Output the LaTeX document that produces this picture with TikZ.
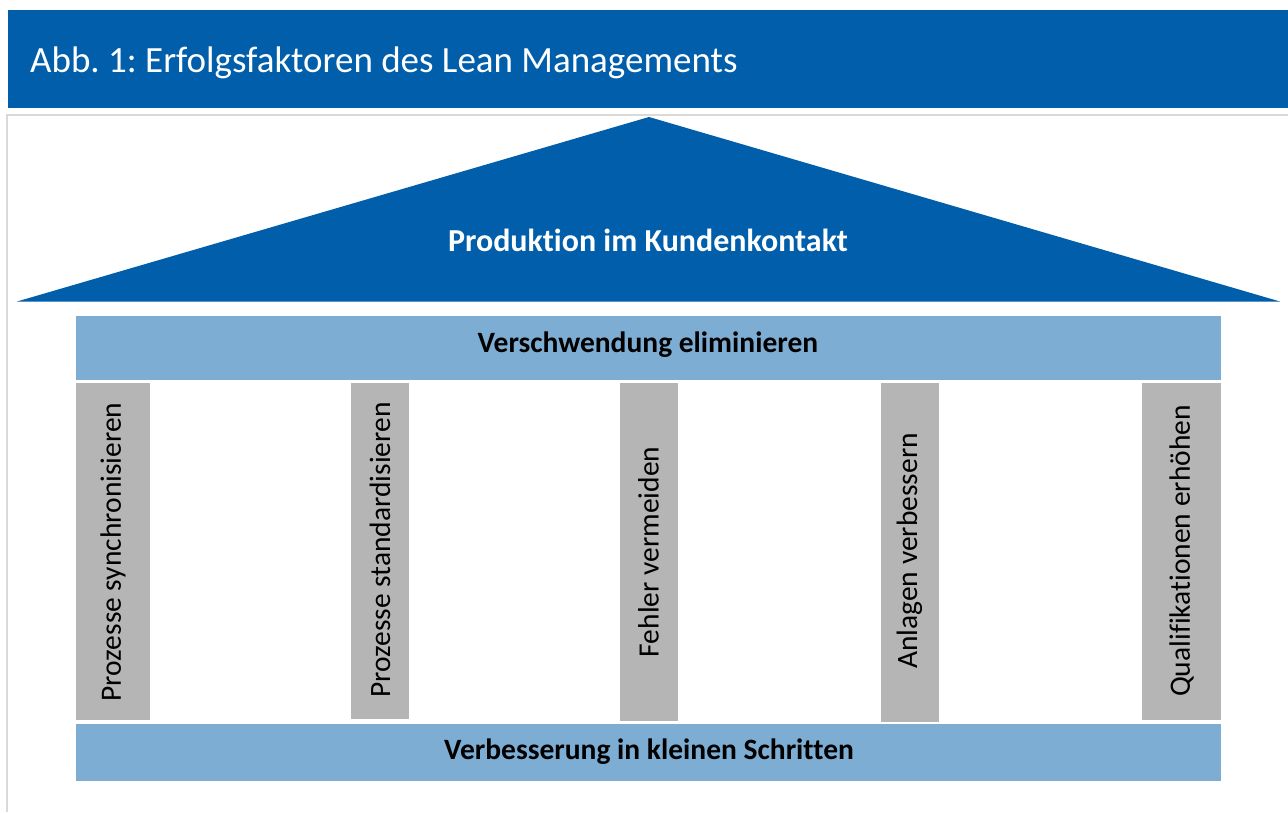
\documentclass[tikz,border=0pt]{standalone}
\usepackage{fontspec}
\setmainfont{Carlito}[Ligatures=NoCommon]
\definecolor{hdrblue}{RGB}{0,94,170}
\definecolor{beamblue}{RGB}{126,173,212}
\definecolor{pilgray}{RGB}{181,181,181}
\definecolor{framegray}{RGB}{217,217,217}
\frenchspacing
\begin{document}
\begin{tikzpicture}[x=1pt,y=-1pt,
  beam/.style={fill=beamblue,draw=none,inner sep=0pt,minimum width=1145,minimum height=64},
  beamtext/.style={inner sep=0pt,font=\fontsize{29.5}{34}\selectfont\bfseries},
  pillar/.style={fill=pilgray,draw=none,inner sep=0pt,rotate=90,minimum height=58},
  piltext/.style={rotate=90,inner sep=0pt,font=\fontsize{29.5}{34}\selectfont},
  roof/.style={fill=hdrblue,draw=none}]
\useasboundingbox (0,0) rectangle (1288,812);
\fill[white] (0,0) rectangle (1288,812);
% header
\node[fill=hdrblue,inner sep=0pt,minimum width=1280,minimum height=98,anchor=north west] (hdr) at (8,10) {};
\node[anchor=base west,text=white,inner sep=0pt,font=\fontsize{37}{42}\selectfont] (title) at (30,72) {Abb. 1: Erfolgsfaktoren des Lean Managements};
% frame
\draw[framegray,line width=1.5pt] (7,812) -- (7,115) -- (1288,115);
% roof
\coordinate (rl) at (17,301.5);
\coordinate (rr) at (1280,301.5);
\coordinate (ra) at (649,117);
\fill[roof] (rl) -- (ra) -- (rr) -- cycle;
\node[text=white,inner sep=0pt,font=\fontsize{32}{36}\selectfont\bfseries] (rooftext) at (648,240) {Produktion im Kundenkontakt};
% beams
\node[beam] (top) at (648.5,348) {};
\node[beamtext] (toptext) at (648,345) {Verschwendung eliminieren};
\node[beam,minimum height=57] (bottom) at (648.5,752.5) {};
\node[beamtext] (bottext) at (649,752) {Verbesserung in kleinen Schritten};
% pillars
\node[pillar,minimum width=337,minimum height=74] (p1) at (113,551.5) {};
\node[piltext] (t1) at (113,552) {Prozesse synchronisieren};
\node[pillar,minimum width=336] (p2) at (380,551) {};
\node[piltext] (t2) at (380,550) {Prozesse standardisieren};
\node[pillar,minimum width=338] (p3) at (648.5,552) {};
\node[piltext] (t3) at (648.5,552) {Fehler vermeiden};
\node[pillar,minimum width=339] (p4) at (909.5,552.5) {};
\node[piltext] (t4) at (909.5,551) {Anlagen verbessern};
\node[pillar,minimum width=337,minimum height=79] (p5) at (1181.5,551.5) {};
\node[piltext] (t5) at (1181.5,551) {Qualifikationen erhöhen};
\end{tikzpicture}
\end{document}
